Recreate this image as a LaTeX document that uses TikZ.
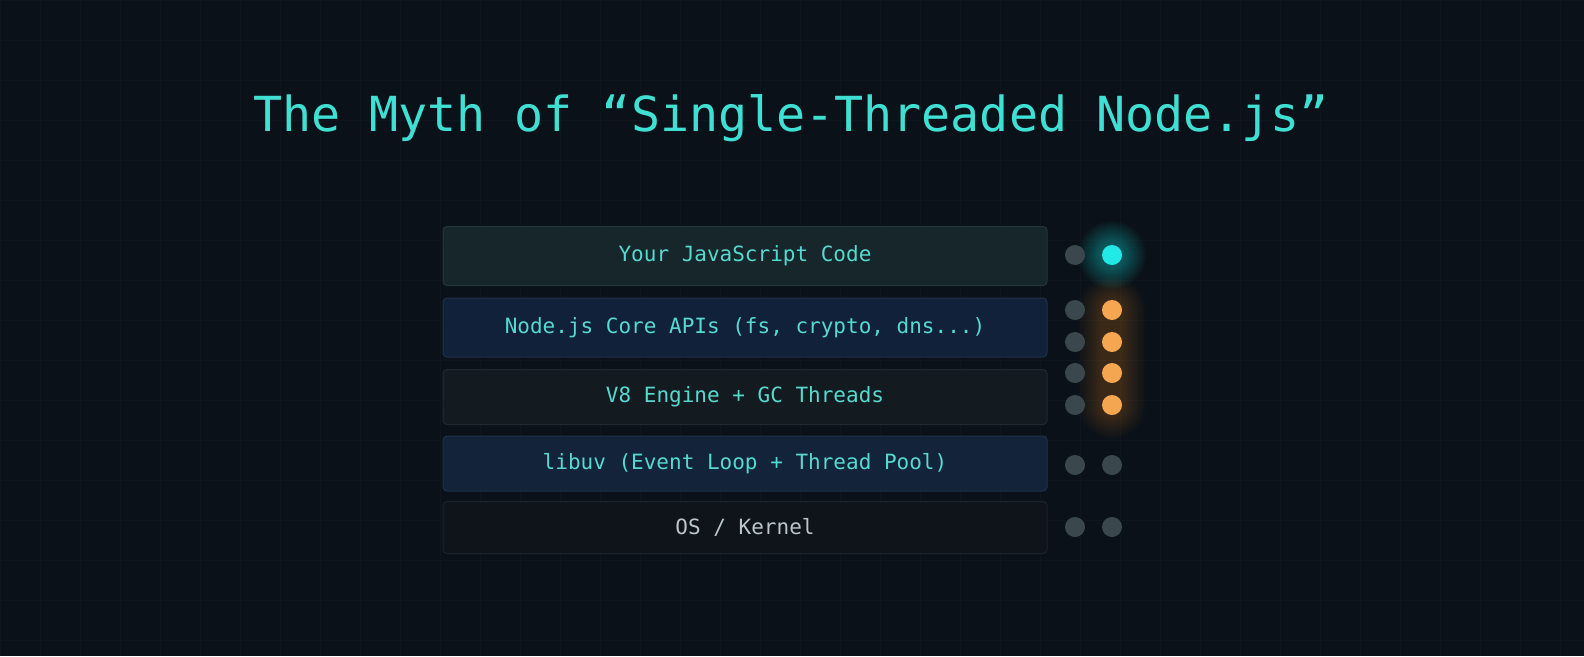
\documentclass[tikz,border=0pt]{standalone}
\usepackage{fontspec}
\newfontfamily\titlefont{DejaVu Sans Mono}
\newfontfamily\boxfont{DejaVu Sans Mono}
\definecolor{bg}{HTML}{0B1118}
\definecolor{gridc}{HTML}{0E151C}
\definecolor{titlec}{HTML}{3FE0D4}
\definecolor{txtc}{HTML}{55DAD0}
\definecolor{oskc}{HTML}{BCC6CA}
\definecolor{fillA}{HTML}{16262B}
\definecolor{fillB}{HTML}{11213A}
\definecolor{fillC}{HTML}{141B20}
\definecolor{fillD}{HTML}{13233A}
\definecolor{fillE}{HTML}{0E141A}
\definecolor{bordA}{HTML}{23363B}
\definecolor{bordB}{HTML}{1E324A}
\definecolor{bordC}{HTML}{202930}
\definecolor{bordE}{HTML}{1B242B}
\definecolor{dotgrey}{HTML}{3A484D}
\definecolor{dotcyan}{HTML}{22E8E6}
\definecolor{dotorange}{HTML}{F6A650}
\tikzset{
  layer/.style={rounded corners=4pt, line width=1pt, minimum width=604pt, minimum height=#1, inner sep=0pt, font=\boxfont\fontsize{21}{24}\selectfont, text=txtc},
  gdot/.style={circle, fill=dotgrey, minimum size=20pt, inner sep=0pt},
  cdot/.style={circle, fill=dotcyan, minimum size=20pt, inner sep=0pt},
  odot/.style={circle, fill=dotorange, minimum size=20pt, inner sep=0pt},
}
\begin{document}
\begin{tikzpicture}[x=1pt,y=-1pt]
\useasboundingbox (0,0) rectangle (1584,656);
\fill[bg] (0,0) rectangle (1584,656);
\foreach \gx in {0,40,...,1584} \draw[gridc, line width=0.8pt] (\gx,0) -- (\gx,656);
\foreach \gy in {0,40,...,656} \draw[gridc, line width=0.8pt] (0,\gy) -- (1584,\gy);
% title
\node[font=\titlefont\fontsize{48.3}{56}\selectfont, text=titlec] (title) at (791,118) {The Myth of “Single-Threaded Node.js”};
% glows
\foreach \r in {11,12,...,34} \fill[dotcyan, opacity=0.018] (1112,255) circle (\r);
\foreach \r in {11,12,...,34} \fill[dotorange, opacity=0.012, rounded corners=\r] (1112-\r,310-\r) rectangle (1112+\r,405+\r);
% layers
\node[layer=59pt, fill=fillA, draw=bordA] (l1) at (745,256) {Your JavaScript Code};
\node[layer=59pt, fill=fillB, draw=bordB] (l2) at (745,327.5) {Node.js Core APIs (fs, crypto, dns...)};
\node[layer=55pt, fill=fillC, draw=bordC] (l3) at (745,397) {V8 Engine + GC Threads};
\node[layer=55pt, fill=fillD, draw=bordB] (l4) at (745,463.5) {libuv (Event Loop + Thread Pool)};
\node[layer=52pt, fill=fillE, draw=bordE, text=oskc] (l5) at (745,527.5) {OS / Kernel};
% dots
\node[gdot] (g1) at (1075,255) {};
\node[cdot] (c1) at (1112,255) {};
\node[gdot] (g2a) at (1075,310) {};
\node[odot] (o2a) at (1112,310) {};
\node[gdot] (g2b) at (1075,342) {};
\node[odot] (o2b) at (1112,342) {};
\node[gdot] (g3a) at (1075,373) {};
\node[odot] (o3a) at (1112,373) {};
\node[gdot] (g3b) at (1075,405) {};
\node[odot] (o3b) at (1112,405) {};
\node[gdot] (g4a) at (1075,465) {};
\node[gdot] (g4b) at (1112,465) {};
\node[gdot] (g5a) at (1075,527) {};
\node[gdot] (g5b) at (1112,527) {};
\end{tikzpicture}
\end{document}
